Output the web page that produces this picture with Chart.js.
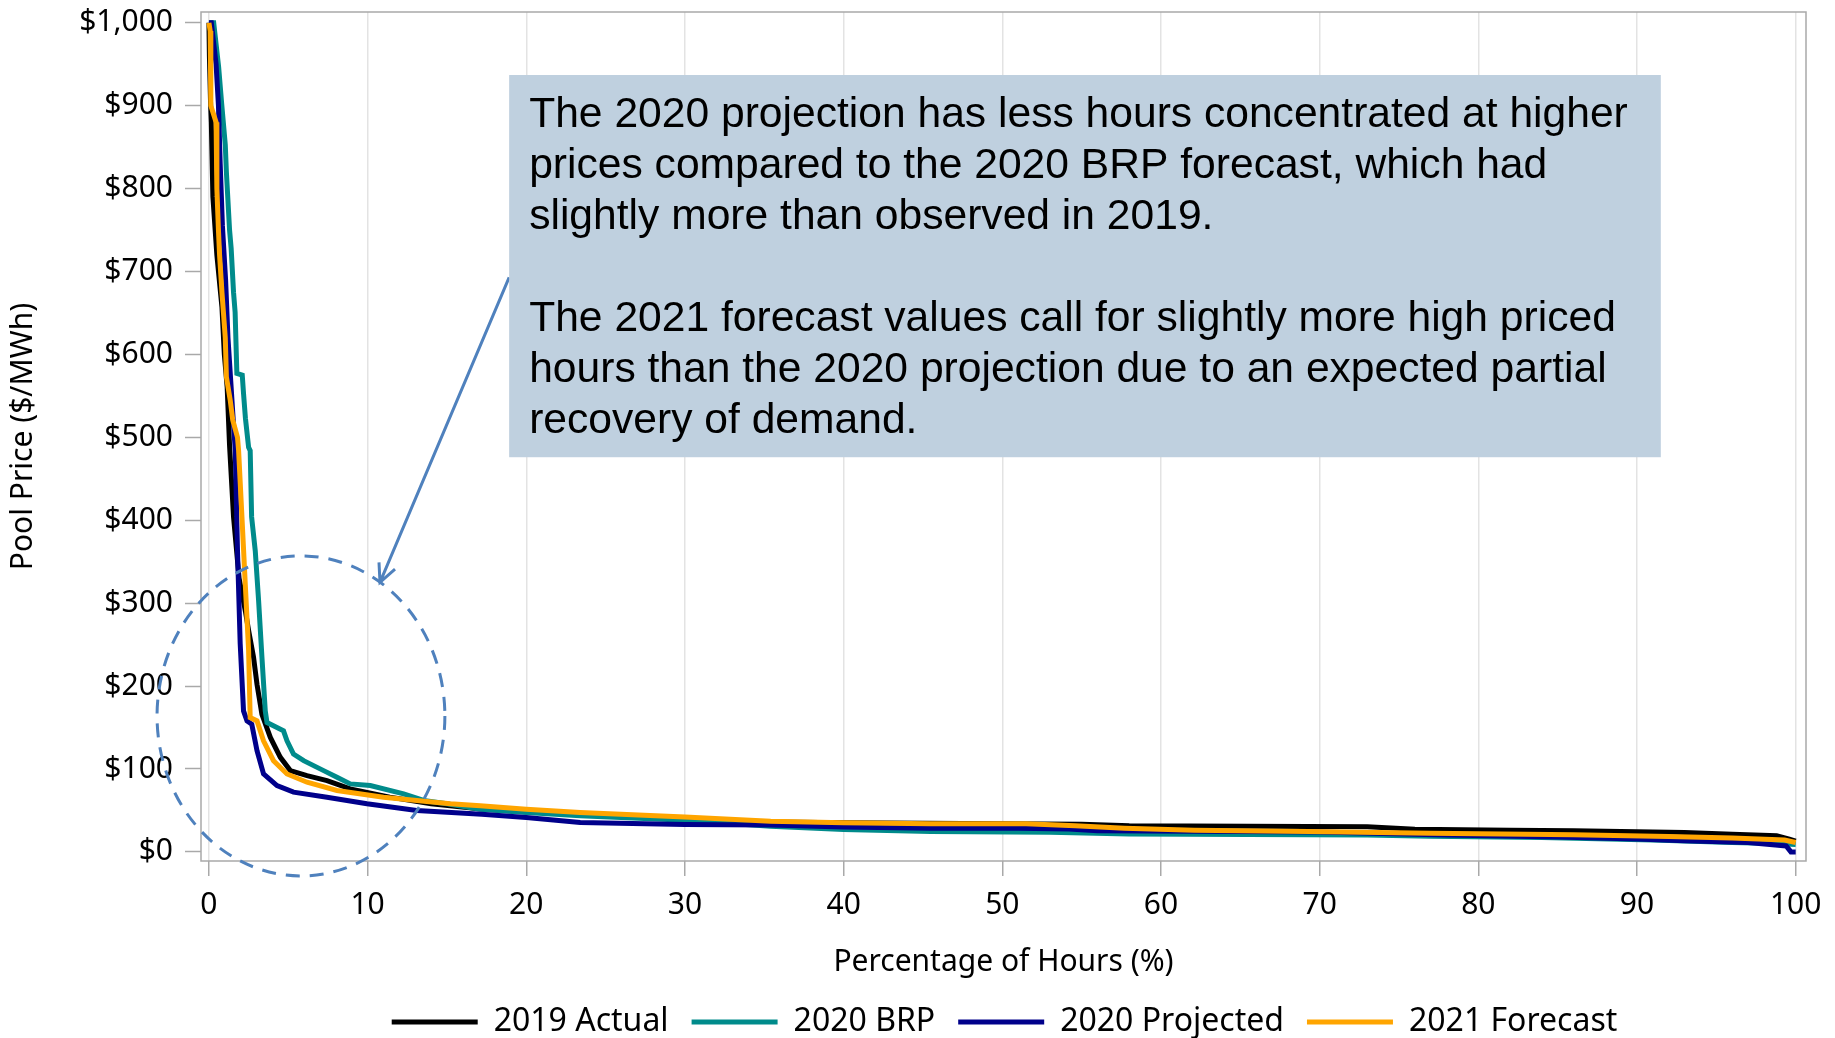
<!DOCTYPE html>
<html>
<head>
<meta charset="utf-8">
<title>Pool Price Duration</title>
<script src="https://cdn.jsdelivr.net/npm/chart.js@4.4.0/dist/chart.umd.min.js"></script>
<style>
  html, body { margin: 0; padding: 0; background: #fff; }
  #wrap { width: 1835px; height: 1038px; position: relative; }
</style>
</head>
<body>
<div id="wrap"><canvas id="priceChart"></canvas></div>
<script>
// tick labels
const xTicks = [0, 10, 20, 30, 40, 50, 60, 70, 80, 90, 100];
const yTicks = [0, 100, 200, 300, 400, 500, 600, 700, 800, 900, 1000];

const seriesNames = ['2019 Actual', '2020 BRP', '2020 Projected', '2021 Forecast'];

// 2019 Actual
const actual2019X = [0, 0.03, 0.1, 0.15, 0.25, 0.5, 0.82, 0.97, 1.15, 1.3, 1.55, 1.9, 2.3, 2.5, 2.81, 3.03, 3.34, 3.87, 4.5, 5.13, 6.18, 7.44, 8.9, 11.4, 14, 17, 20, 25, 28, 32.3, 40, 50, 55, 58, 73, 76, 82, 86, 93, 96, 98.8, 99.6, 100];
const actual2019Y = [1000, 960, 905, 880, 790, 720, 657, 600, 560, 490, 404, 330, 290, 267, 235, 202, 166, 138, 114, 98, 92, 86, 76, 66, 58, 52, 48.5, 44, 41.5, 36.7, 35, 34, 33.4, 31.4, 30.2, 27.4, 26.2, 25.4, 23.4, 21.4, 19.4, 15.4, 13];

// 2020 BRP
const brp2020X = [0, 0.3, 0.61, 0.8, 1.03, 1.1, 1.3, 1.4, 1.55, 1.65, 1.76, 2.1, 2.18, 2.3, 2.5, 2.6, 2.69, 2.92, 3.13, 3.34, 3.55, 3.66, 4.7, 4.92, 5.33, 5.97, 7.23, 8.07, 8.91, 10.17, 12.27, 13.53, 15, 17.1, 20, 23.4, 30, 35.4, 40, 45.5, 53, 58, 73, 77, 84, 91, 96, 98.8, 100];
const brp2020Y = [1000, 1000, 947, 903, 853, 820, 750, 728, 675, 651, 577, 575, 553, 523, 488, 484, 404, 363, 303, 235, 170, 156, 146, 134, 118, 110, 98, 90, 82, 80, 70, 62, 58, 51.5, 47.5, 43.5, 38, 31, 27, 24.5, 23.6, 21.7, 20.5, 19, 17.4, 14.2, 11.3, 10.1, 9];

// 2020 Projected
const proj2020X = [0, 0.15, 0.45, 0.6, 0.71, 0.85, 1.05, 1.2, 1.35, 1.5, 1.66, 1.8, 1.97, 2.18, 2.4, 2.7, 3.03, 3.44, 4.29, 5.33, 7.44, 9.96, 13.1, 17.2, 20, 23.4, 30, 35.4, 40, 45.5, 51, 54.2, 56, 62, 70, 78, 85, 90, 93, 97, 99.4, 99.7, 100];
const proj2020Y = [1000, 1000, 950, 900, 830, 755, 690, 620, 575, 530, 484, 363, 251, 170, 158, 154, 122, 94, 80, 72, 66, 58, 50, 45.5, 41.5, 35.5, 33, 32.5, 30, 28.5, 28.5, 27.5, 25.5, 25, 24, 20.5, 18, 15.4, 13.4, 11.3, 7.2, 0, 0];

// 2021 Forecast
const fcst2021X = [0, 0.08, 0.12, 0.45, 0.5, 0.6, 0.67, 0.82, 1.03, 1.1, 1.34, 1.5, 1.8, 1.87, 2.08, 2.29, 2.5, 2.6, 3.03, 3.44, 4.07, 4.92, 6.18, 8.07, 11, 15.2, 17.1, 20, 23.4, 30, 35.4, 40, 45.5, 51.5, 54.6, 57.7, 62.1, 69.3, 77, 86, 92, 96, 99.3, 100];
const fcst2021Y = [1000, 990, 900, 880, 800, 750, 720, 675, 620, 573, 545, 521, 500, 484, 404, 323, 243, 162, 158, 134, 110, 94, 84, 74, 66, 58, 55.6, 51.5, 47.5, 42, 37, 35, 34, 34, 31.4, 28.6, 26, 24.5, 22.6, 20.6, 18.6, 16.6, 14.2, 11.3];

const noteLines = [
  'The 2020 projection has less hours concentrated at higher',
  'prices compared to the 2020 BRP forecast, which had',
  'slightly more than observed in 2019.',
  '',
  'The 2021 forecast values call for slightly more high priced',
  'hours than the 2020 projection due to an expected partial',
  'recovery of demand.'
];

// callout geometry, in axis units
const noteBox = { x0: 18.92, x1: 91.5, y0: 476, y1: 937 };
const noteArrow = { x0: 18.92, y0: 693, x1: 10.78, y1: 325 };
const noteRing = { x: 5.8, y: 164, rx: 9.07, ry: 193 };

function toPoints(xs, ys) {
  return xs.map((x, i) => ({ x: x, y: ys[i] }));
}

const noteColor = '#4f81bd';

const notesPlugin = {
  id: 'notes',
  afterDatasetsDraw(chart) {
    const { ctx, chartArea } = chart;
    const x = chart.scales.x;
    const y = chart.scales.y;

    ctx.save();

    // frame round the plot
    ctx.strokeStyle = '#a9a9a9';
    ctx.lineWidth = 1.5;
    ctx.strokeRect(chartArea.left, chartArea.top,
      chartArea.right - chartArea.left, chartArea.bottom - chartArea.top);

    // dashed ring
    const cx = x.getPixelForValue(noteRing.x);
    const cy = y.getPixelForValue(noteRing.y);
    const rx = x.getPixelForValue(noteRing.x + noteRing.rx) - cx;
    const ry = cy - y.getPixelForValue(noteRing.y + noteRing.ry);
    ctx.strokeStyle = noteColor;
    ctx.lineWidth = 3;
    ctx.setLineDash([14, 10]);
    ctx.beginPath();
    ctx.ellipse(cx, cy, rx, ry, 0, 0, Math.PI * 2);
    ctx.stroke();
    ctx.setLineDash([]);

    // arrow
    const ax0 = x.getPixelForValue(noteArrow.x0);
    const ay0 = y.getPixelForValue(noteArrow.y0);
    const ax1 = x.getPixelForValue(noteArrow.x1);
    const ay1 = y.getPixelForValue(noteArrow.y1);
    ctx.beginPath();
    ctx.moveTo(ax0, ay0);
    ctx.lineTo(ax1, ay1);
    const ang = Math.atan2(ay1 - ay0, ax1 - ax0);
    const head = 20;
    ctx.moveTo(ax1 - head * Math.cos(ang - 0.45), ay1 - head * Math.sin(ang - 0.45));
    ctx.lineTo(ax1, ay1);
    ctx.lineTo(ax1 - head * Math.cos(ang + 0.45), ay1 - head * Math.sin(ang + 0.45));
    ctx.stroke();

    // text box
    const bx = x.getPixelForValue(noteBox.x0);
    const bx1 = x.getPixelForValue(noteBox.x1);
    const by = y.getPixelForValue(noteBox.y1);
    const by1 = y.getPixelForValue(noteBox.y0);
    ctx.fillStyle = '#bfd0df';
    ctx.fillRect(bx, by, bx1 - bx, by1 - by);

    ctx.fillStyle = '#000';
    ctx.font = '42.6px "Liberation Sans", Arial, sans-serif';
    ctx.textAlign = 'left';
    ctx.textBaseline = 'alphabetic';
    noteLines.forEach((line, i) => {
      ctx.fillText(line, bx + 20, by + 52 + i * 51);
    });

    ctx.restore();
  },
  afterLayout(chart) {
    // legend sits a bit right of the centre in the original
    chart.legend.left = 203;
  }
};

const axisFont = { family: '"Noto Sans", sans-serif', size: 30 };

Chart.defaults.color = '#000';

const ctx = document.getElementById('priceChart').getContext('2d');

const chart = new Chart(ctx, {
  type: 'line',
  data: {
    datasets: [
      {
        label: seriesNames[0],
        data: toPoints(actual2019X, actual2019Y),
        borderColor: '#000000',
        backgroundColor: '#000000',
        order: 4
      },
      {
        label: seriesNames[1],
        data: toPoints(brp2020X, brp2020Y),
        borderColor: '#008b8b',
        backgroundColor: '#008b8b',
        order: 3
      },
      {
        label: seriesNames[2],
        data: toPoints(proj2020X, proj2020Y),
        borderColor: '#00008b',
        backgroundColor: '#00008b',
        order: 2
      },
      {
        label: seriesNames[3],
        data: toPoints(fcst2021X, fcst2021Y),
        borderColor: '#ffa500',
        backgroundColor: '#ffa500',
        order: 1
      }
    ]
  },
  options: {
    responsive: true,
    maintainAspectRatio: false,
    animation: false,
    layout: {
      padding: { top: 12, right: 29, left: 0, bottom: -10 }
    },
    elements: {
      line: { borderWidth: 5, tension: 0, fill: false },
      point: { radius: 0 }
    },
    plugins: {
      tooltip: { enabled: false },
      legend: {
        position: 'bottom',
        labels: {
          boxWidth: 86,
          boxHeight: 5,
          padding: 23,
          font: { family: '"Noto Sans", sans-serif', size: 32 },
          sort: (a, b) => a.datasetIndex - b.datasetIndex,
          generateLabels: (c) => {
            const items = Chart.defaults.plugins.legend.labels.generateLabels(c);
            items.forEach(it => { it.lineWidth = 0; });
            return items;
          }
        }
      }
    },
    scales: {
      x: {
        type: 'linear',
        min: -0.5,
        max: 100.65,
        afterBuildTicks: (scale) => {
          scale.ticks = xTicks.map(v => ({ value: v }));
        },
        afterFit: (scale) => {
          scale.height = 122;
          scale.paddingLeft = 0;
          scale.paddingRight = 0;
        },
        ticks: {
          font: axisFont,
          padding: 11,
          maxRotation: 0,
          autoSkip: false
        },
        grid: {
          color: '#e3e3e3',
          lineWidth: 1.5,
          tickColor: '#a9a9a9',
          tickLength: 15,
          tickWidth: 1.5
        },
        border: { display: false },
        title: {
          display: true,
          text: 'Percentage of Hours (%)',
          font: { family: '"Noto Sans", sans-serif', size: 30, lineHeight: 1.2 },
          padding: { top: 0, bottom: 3 }
        }
      },
      y: {
        type: 'linear',
        min: -11,
        max: 1013,
        afterBuildTicks: (scale) => {
          scale.ticks = yTicks.map(v => ({ value: v }));
        },
        afterFit: (scale) => {
          scale.width = 201;
          scale.paddingTop = 0;
          scale.paddingBottom = 0;
        },
        ticks: {
          font: axisFont,
          padding: 12,
          callback: (v) => '$' + v.toLocaleString('en-US')
        },
        grid: {
          drawOnChartArea: false,
          tickColor: '#a9a9a9',
          tickLength: 16,
          tickWidth: 1.5
        },
        border: { display: false },
        title: {
          display: true,
          text: 'Pool Price ($/MWh)',
          font: { family: '"Noto Sans", sans-serif', size: 30, lineHeight: 1.2 },
          padding: { top: 5, bottom: 0 }
        }
      }
    }
  },
  plugins: [notesPlugin]
});
</script>
</body>
</html>
